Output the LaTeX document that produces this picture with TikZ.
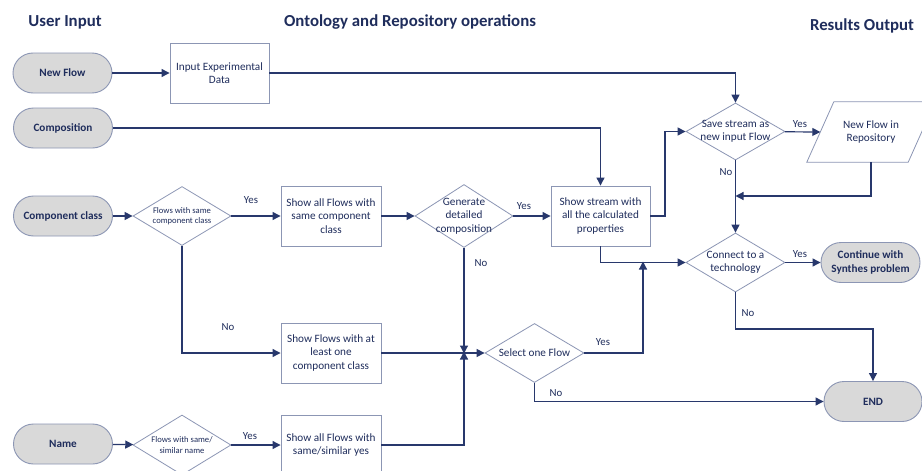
\documentclass[tikz,border=0pt]{standalone}
\usepackage{fontspec}
\setmainfont{Carlito}
\usetikzlibrary{shapes.geometric,arrows.meta}
\definecolor{navy}{RGB}{31,45,92}
\definecolor{lnc}{RGB}{40,56,108}
\definecolor{bdr}{RGB}{140,150,180}
\definecolor{tfill}{RGB}{217,217,217}
\tikzset{
  title/.style={font=\fontsize{16.8}{18}\selectfont\bfseries, text=navy},
  term/.style={draw=bdr, line width=0.9pt, fill=tfill, rounded corners=20pt, minimum width=99pt, minimum height=40pt, inner sep=0pt, align=center, text=navy, font=\fontsize{11.2}{13.5}\selectfont\bfseries},
  box/.style={draw=bdr, line width=0.9pt, fill=white, minimum width=100pt, minimum height=60pt, inner sep=0pt, align=center, text=navy, font=\fontsize{11.2}{13.5}\selectfont},
  dia/.style={draw=bdr, line width=0.8pt, diamond, minimum width=99pt, minimum height=59pt, inner sep=0pt, label={[text=navy, align=center, font=\fontsize{11.2}{13.5}\selectfont]center:#1}},
  sdia/.style={draw=bdr, line width=0.8pt, diamond, minimum width=98pt, minimum height=59pt, inner sep=0pt, label={[text=navy, align=center, font=\fontsize{8.6}{10.5}\selectfont]center:#1}},
  conn/.style={draw=lnc, line width=1.2pt},
  arr/.style={conn, -{Triangle[length=8pt,width=8pt]}},
  lab/.style={text=navy, font=\fontsize{10.8}{12}\selectfont},
}
\begin{document}
\begin{tikzpicture}[x=1pt,y=-1pt]
\clip (0,0) rectangle (922,471);
\useasboundingbox (0,0) rectangle (922,471);
\fill[white] (0,0) rectangle (922,471);

% titles
\node[title] (t1) at (65,22) {User Input};
\node[title] (t2) at (410,22) {Ontology and Repository operations};
\node[title] (t3) at (862,26) {Results Output};

% terminals
\node[term] (nf) at (62.5,73) {New Flow};
\node[term] (comp) at (63,128) {Composition};
\node[term] (cc) at (63,216) {Component class};
\node[term] (nm) at (63,444) {Name};
\node[term] (cont) at (870.5,262.5) {Continue with\\Synthes problem};
\node[term, minimum width=98pt] (endn) at (873,401.5) {END};

% boxes
\node[box, minimum width=99pt] (ied) at (219.5,73) {Input Experimental\\Data};
\node[box] (r1) at (331,216) {Show all Flows with\\same component\\class};
\node[box] (r2) at (331,353) {Show Flows with at\\least one\\component class};
\node[box] (r3) at (331,445) {Show all Flows with\\same/similar yes};
\node[box, minimum width=99pt] (ss) at (600.5,216) {Show stream with\\all the calculated\\properties};

% diamonds
\node[sdia={Flows with same\\component class}] (d1) at (182,216) {};
\node[sdia={Flows with same/\\similar name}, minimum height=60pt] (d2) at (182,445) {};
\node[dia={Generate\\detailed\\composition}, minimum width=98pt, minimum height=63pt] (gen) at (464,216) {};
\node[dia={Select one Flow}] (sel) at (534.5,353) {};
\node[dia={Save stream as\\new input Flow}, minimum height=57pt] (save) at (735.5,131.5) {};
\node[dia={Connect to a\\technology}] (cn) at (735.5,262.5) {};

% parallelogram
\node[minimum width=101pt, minimum height=60pt, inner sep=0pt, align=center, text=navy, font=\fontsize{11.2}{13.5}\selectfont] (repo) at (871,132) {New Flow in\\Repository};
\draw[draw=bdr, line width=0.8pt] ([xshift=13.5pt]repo.north west) -- ([xshift=13.5pt]repo.north east) -- ([xshift=-13.5pt]repo.south east) -- ([xshift=-13.5pt]repo.south west) -- cycle;

% helper coordinates
\coordinate (J) at (464,353);
\coordinate (m1) at (735.5,196);
\coordinate (c1) at (643,262.5);
\coordinate (k1) at (665,216);
\coordinate (k2) at (735.5,329);

% connectors
\draw[arr] (nf) -- (ied);
\draw[arr] (ied.east) -| (save.north);
\draw[arr] (comp.east) -| (ss.north);
\draw[arr] (cc) -- (d1);
\draw[arr] (d1) -- (r1);
\draw[arr] (d1.south) |- (r2.west);
\draw[arr] (r1) -- (gen);
\draw[arr] (gen) -- (ss);
\draw[arr] (gen.south) -- ([yshift=-0.5pt]J);
\draw[arr] (r2.east) -- (sel.west);
\draw[arr] (r3.east) -| ([yshift=1.5pt]J);
\draw[arr] (ss.east) -- (k1) |- (save.west);
\draw[arr] (save) -- (repo.west);
\draw[arr] (save.south) -- (cn.north);
\draw[arr] (repo.south) |- (m1);
\draw[arr] (ss.south) |- (cn.west);
\draw[arr] (sel.east) -| ([yshift=1pt]c1);
\draw[arr] (cn) -- (cont);
\draw[arr] (cn.south) -- (k2) -| (endn.north);
\draw[arr] (sel.south) |- (endn.west);
\draw[arr] (nm) -- (d2);
\draw[arr] (d2) -- (r3.west |- d2);

% labels
\node[lab] (y1) at (251,200) {Yes};
\node[lab] (n1) at (228,327) {No};
\node[lab] (y2) at (524,206) {Yes};
\node[lab] (n2) at (481,263) {No};
\node[lab] (y3) at (603,342) {Yes};
\node[lab] (n3) at (556,393) {No};
\node[lab] (y4) at (800,124) {Yes};
\node[lab] (n4) at (726,172) {No};
\node[lab] (y5) at (800,254) {Yes};
\node[lab] (n5) at (748,313) {No};
\node[lab] (y6) at (250,436) {Yes};
\end{tikzpicture}
\end{document}
